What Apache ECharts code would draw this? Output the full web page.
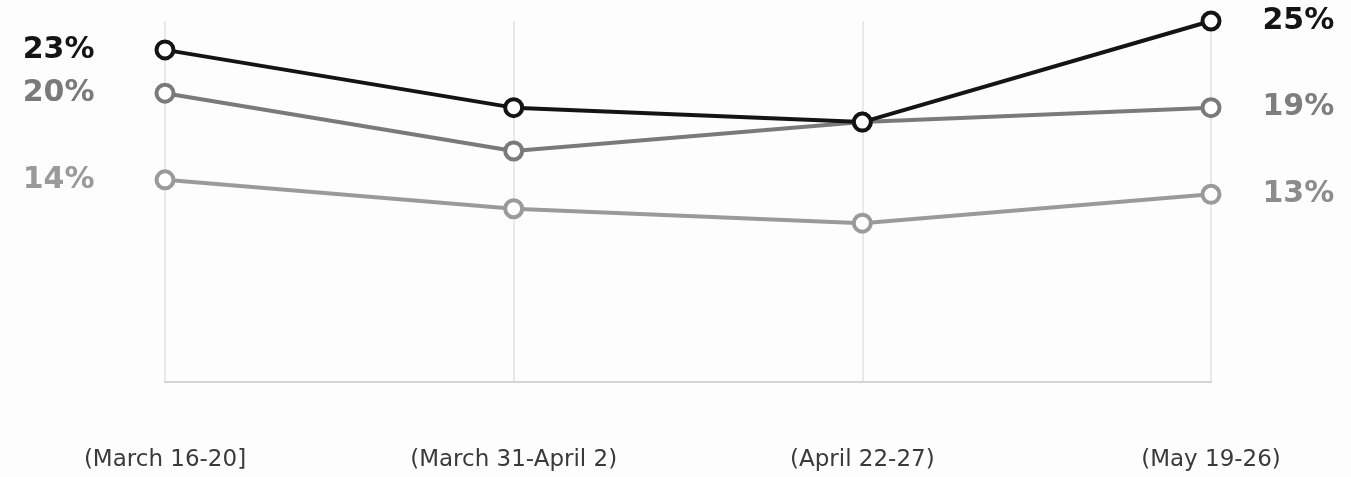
<!DOCTYPE html>
<html>
<head>
<meta charset="utf-8">
<script src="https://cdn.jsdelivr.net/npm/echarts@6/dist/echarts.min.js"></script>
<style>
  html, body { margin: 0; padding: 0; background: #fdfdfd; }
  #chart { width: 1351px; height: 477px; }
</style>
</head>
<body>
<div id="chart"></div>
<script>
// categories and series values (percent)
var periods = ['(March 16-20]', '(March 31-April 2)', '(April 22-27)', '(May 19-26)'];
var blackVals = [23, 19, 18, 25];
var greyVals = [20, 16, 18, 19];
var lightVals = [14, 12, 11, 13];

var chart = echarts.init(document.getElementById('chart'));

// label only the first and last point of each line
function withEndLabels(vals, leftColor, rightColor) {
  return vals.map(function (v, i) {
    var item = { value: v };
    if (i === 0) {
      item.label = { show: true, position: 'left', distance: 60, color: leftColor };
    } else if (i === vals.length - 1) {
      item.label = { show: true, position: 'right', distance: 41, color: rightColor };
    }
    return item;
  });
}

function makeSeries(name, vals, color, leftColor, rightColor, z) {
  return {
    name: name,
    type: 'line',
    z: z,
    data: withEndLabels(vals, leftColor, rightColor),
    symbol: 'circle',
    symbolSize: 17,
    lineStyle: { color: color, width: 4 },
    itemStyle: { color: '#ffffff', borderColor: color, borderWidth: 4 },
    label: {
      show: false,
      formatter: '{c}%',
      fontFamily: 'DejaVu Sans',
      fontWeight: 'bold',
      fontSize: 30
    },
    emphasis: { disabled: true },
    animation: false
  };
}

chart.setOption({
  backgroundColor: '#fdfdfd',
  grid: { left: 165, right: 140, top: 21, bottom: 95 },
  xAxis: {
    type: 'category',
    data: periods,
    boundaryGap: false,
    axisLine: { lineStyle: { color: '#d4d4d4', width: 2 } },
    axisTick: { show: false },
    axisLabel: {
      margin: 67,
      color: '#3a3a3a',
      fontFamily: 'DejaVu Sans',
      fontSize: 23
    },
    splitLine: { show: true, lineStyle: { color: '#e2e2e2', width: 1.5 } }
  },
  yAxis: {
    type: 'value',
    min: 0,
    max: 25,
    show: false,
    splitLine: { show: false }
  },
  series: [
    makeSeries('light', lightVals, '#9a9a9a', '#9a9a9a', '#8c8c8c', 2),
    makeSeries('grey', greyVals, '#7a7a7a', '#7a7a7a', '#7e7e7e', 3),
    makeSeries('black', blackVals, '#141414', '#141414', '#141414', 4)
  ]
});
</script>
</body>
</html>
